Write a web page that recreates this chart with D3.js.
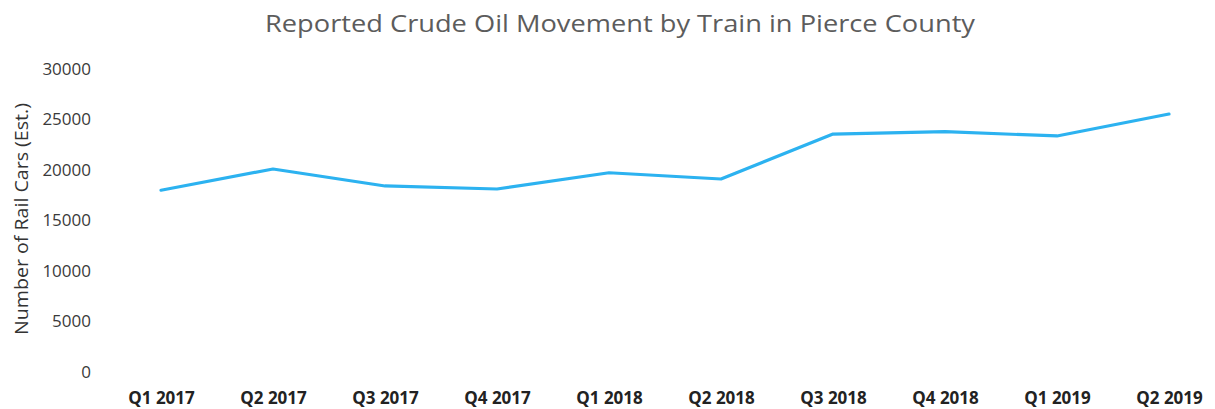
<!DOCTYPE html>
<html>
<head>
<meta charset="utf-8">
<script src="https://cdn.jsdelivr.net/npm/d3@7"></script>
<style>
  body { margin: 0; background: #fff; }
  #chart { width: 1215px; height: 409px; }
  text { font-family: "Open Sans", sans-serif; }
</style>
</head>
<body>
<div id="chart"></div>
<script>
// quarters along the bottom
var quarters = ["Q1 2017", "Q2 2017", "Q3 2017", "Q4 2017", "Q1 2018",
                "Q2 2018", "Q3 2018", "Q4 2018", "Q1 2019", "Q2 2019"];
// estimated rail cars per quarter
var railCars = [18000, 20100, 18420, 18120, 19730, 19110, 23560, 23790, 23370, 25540];
var yTicks = [0, 5000, 10000, 15000, 20000, 25000, 30000];

var chartTitle = "Reported Crude Oil Movement by Train in Pierce County";
var yTitle = "Number of Rail Cars (Est.)";

var width = 1215, height = 409;

var svg = d3.select("#chart").append("svg")
    .attr("width", width)
    .attr("height", height);

// x: one point per quarter
var x = d3.scalePoint()
    .domain(quarters)
    .range([161, 1169]);

// y: 0 at the bottom, 30000 at the top
var y = d3.scaleLinear()
    .domain([0, 30000])
    .range([372, 69]);

// title -- the original is wide, stretch it to the same length
svg.append("text")
    .attr("x", 620)
    .attr("y", 32)
    .attr("text-anchor", "middle")
    .attr("textLength", 710)
    .attr("lengthAdjust", "spacingAndGlyphs")
    .style("font-size", "23.5px")
    .style("fill", "#5c5c5c")
    .text(chartTitle);

// y axis, labels only
var yAxis = svg.append("g")
    .attr("transform", "translate(91,0)")
    .call(d3.axisLeft(y).tickValues(yTicks).tickSize(0).tickPadding(0).tickFormat(d3.format("d")));
yAxis.select(".domain").remove();
yAxis.selectAll("text")
    .style("font-family", "'Open Sans', sans-serif")
    .style("font-size", "17px")
    .style("fill", "#3a3a3a");

// y axis title
svg.append("text")
    .attr("transform", "translate(28,219) rotate(-90)")
    .attr("text-anchor", "middle")
    .attr("textLength", 232)
    .attr("lengthAdjust", "spacingAndGlyphs")
    .style("font-size", "18.5px")
    .style("fill", "#333")
    .text(yTitle);

// x axis, bold quarter labels (kept clear of the bottom edge)
var xAxis = svg.append("g")
    .attr("transform", "translate(0,391.5)")
    .call(d3.axisBottom(x).tickSize(0).tickPadding(0));
xAxis.select(".domain").remove();
xAxis.selectAll("text")
    .style("font-family", "'Open Sans', sans-serif")
    .style("font-size", "17px")
    .style("font-weight", "bold")
    .style("fill", "#222");

// the line
var line = d3.line()
    .x(function(d, i) { return x(quarters[i]); })
    .y(function(d) { return y(d); });

svg.append("path")
    .datum(railCars)
    .attr("d", line)
    .attr("fill", "none")
    .attr("stroke", "#2cb2f0")
    .attr("stroke-width", 3.2)
    .attr("stroke-linejoin", "round")
    .attr("stroke-linecap", "round");
</script>
</body>
</html>
